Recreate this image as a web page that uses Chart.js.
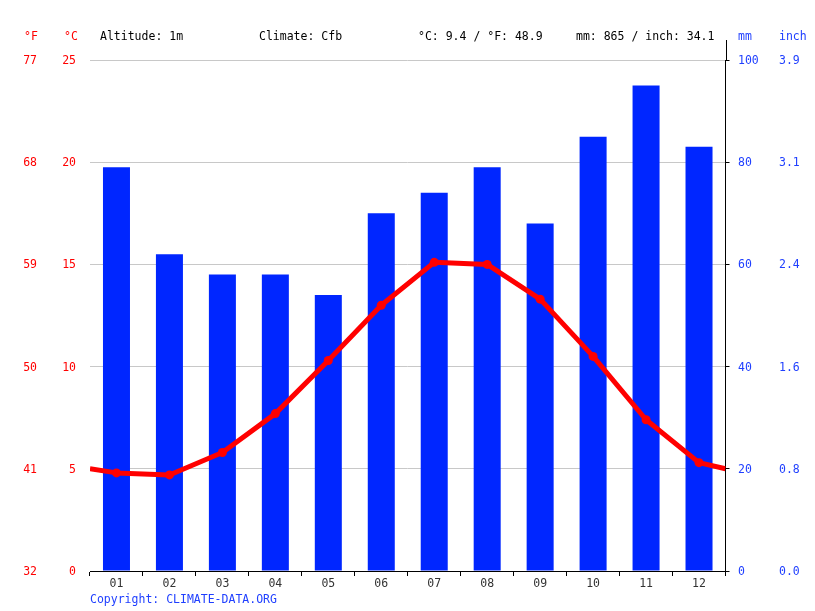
<!DOCTYPE html>
<html>
<head>
<meta charset="utf-8">
<script src="https://cdn.jsdelivr.net/npm/chart.js@4/dist/chart.umd.min.js"></script>
<style>
html,body{margin:0;padding:0;background:#fff;}
#wrap{width:815px;height:611px;position:relative;}
</style>
</head>
<body>
<div id="wrap"><canvas id="c" width="815" height="611"></canvas></div>
<script>
// ---- data ----
const months = ["01","02","03","04","05","06","07","08","09","10","11","12"];
const precipMm = [79, 62, 58, 58, 54, 70, 74, 79, 68, 85, 95, 83];
const tempC = [4.8, 4.7, 5.8, 7.7, 10.3, 13.0, 15.1, 15.0, 13.3, 10.5, 7.4, 5.3];
const edgeTempC = [5.0, 5.0];          // line value at left / right plot edge
const headerTexts = ["Altitude: 1m", "Climate: Cfb", "°C: 9.4 / °F: 48.9", "mm: 865 / inch: 34.1"];
const copyrightText = "Copyright: CLIMATE-DATA.ORG";

const FONT = "DejaVu Sans Mono";
const FS = 11.5;
const RED = "#ff0000";
const BLUE = "#0026ff";
const BLUE_TXT = "#1f3fff";

// line points on a 0..12 linear axis (category centres at i+0.5)
const linePts = [{x:0, y:edgeTempC[0]}]
  .concat(tempC.map((v,i)=>({x:i+0.5, y:v})))
  .concat([{x:12, y:edgeTempC[1]}]);

const decor = {
  id:'decor',
  afterDraw(chart){
    const ctx = chart.ctx, ca = chart.chartArea;
    ctx.save();
    ctx.font = FS + "px '" + FONT + "'";
    ctx.textBaseline = "middle";
    ctx.textAlign = "left";
    ctx.fillStyle = "#000";
    const hx = [100, 259, 418, 576];
    headerTexts.forEach((t,i)=>ctx.fillText(t, hx[i], 37));
    ctx.fillStyle = RED;
    ctx.fillText("°F", 24, 37);
    ctx.fillText("°C", 64, 37);
    ctx.fillStyle = BLUE_TXT;
    ctx.fillText("mm", 738, 37);
    ctx.fillText("inch", 779, 37);
    ctx.fillText(copyrightText, 90, 600);
    // extension of right axis line above the plot
    ctx.strokeStyle = "#000";
    ctx.lineWidth = 1;
    ctx.beginPath();
    ctx.moveTo(Math.round(ca.right)+0.5, 40);
    ctx.lineTo(Math.round(ca.right)+0.5, ca.top);
    ctx.stroke();
    ctx.restore();
  }
};

Chart.defaults.font.family = FONT;
Chart.defaults.font.size = FS;

new Chart(document.getElementById('c'), {
  data: {
    labels: months,
    datasets: [
      {
        type: 'line',
        data: linePts,
        xAxisID: 'xl',
        yAxisID: 'yC',
        borderColor: RED,
        backgroundColor: RED,
        borderWidth: 5,
        borderJoinStyle: 'round',
        borderCapStyle: 'butt',
        tension: 0,
        pointRadius: ctx => (ctx.dataIndex === 0 || ctx.dataIndex === linePts.length-1) ? 0 : 4.5,
        pointBorderWidth: 0,
        pointHoverRadius: 0,
        order: 0
      },
      {
        type: 'bar',
        data: precipMm,
        xAxisID: 'x',
        yAxisID: 'yMM',
        backgroundColor: BLUE,
        borderWidth: 0,
        grouped: false,
        categoryPercentage: 0.51,
        barPercentage: 1,
        order: 1
      }
    ]
  },
  options: {
    responsive: false,
    animation: false,
    events: [],
    layout: { padding: { top: 60, left: 0, right: 0, bottom: 0 } },
    plugins: { legend: {display:false}, tooltip: {enabled:false} },
    scales: {
      x: {
        type: 'category',
        position: 'bottom',
        offset: true,
        grid: { display: true, offset: true, drawOnChartArea: false, drawTicks: true, tickLength: 5, color: '#000' },
        border: { display: true, color: '#000', width: 1 },
        ticks: { color: '#333', padding: 1, maxRotation: 0 },
        afterFit: s => { s.height = 40; }
      },
      xl: {
        type: 'linear',
        display: false,
        min: 0, max: 12
      },
      yF: {
        type: 'linear',
        position: 'left',
        weight: 2,
        min: 0, max: 25,
        grid: { display: false, drawTicks: false },
        border: { display: false },
        ticks: { stepSize: 5, color: RED, padding: 13, labelOffset: 1, callback: v => Math.round(v*9/5+32) },
        afterFit: s => { s.width = 50; }
      },
      yC: {
        type: 'linear',
        position: 'left',
        weight: 1,
        min: 0, max: 25,
        grid: { display: true, drawOnChartArea: true, drawTicks: false, color: '#c8c8c8', lineWidth: 1 },
        border: { display: false },
        ticks: { stepSize: 5, color: RED, padding: 14, labelOffset: 1 },
        afterFit: s => { s.width = 40; }
      },
      yMM: {
        type: 'linear',
        position: 'right',
        weight: 1,
        min: 0, max: 100,
        grid: { display: true, drawOnChartArea: false, drawTicks: true, tickLength: 4, color: '#000' },
        border: { display: true, color: '#000', width: 1 },
        ticks: { stepSize: 20, color: BLUE_TXT, padding: 8.5, labelOffset: 1 },
        afterFit: s => { s.width = 45; }
      },
      yIn: {
        type: 'linear',
        position: 'right',
        weight: 2,
        min: 0, max: 100,
        grid: { display: false, drawTicks: false },
        border: { display: false },
        ticks: { stepSize: 20, color: BLUE_TXT, padding: 8.5, labelOffset: 1, callback: v => (v/25.4).toFixed(1) },
        afterFit: s => { s.width = 44.5; }
      }
    }
  },
  plugins: [decor]
});
</script>
</body>
</html>
